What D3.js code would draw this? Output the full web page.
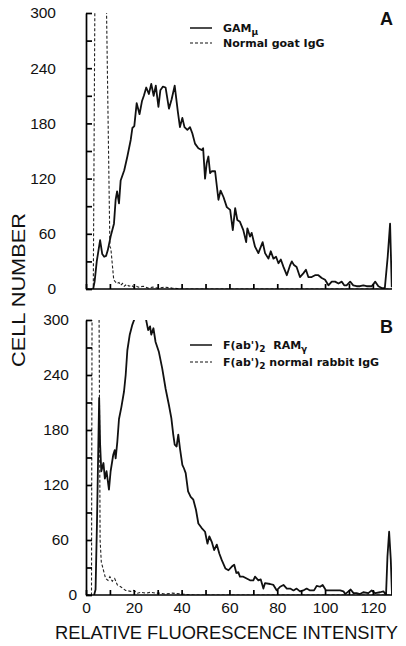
<!DOCTYPE html>
<html>
<head>
<meta charset="utf-8">
<script src="https://cdn.jsdelivr.net/npm/d3@7"></script>
<style>
	body { margin: 0; background: #fff; }
	svg { display: block; }
</style>
</head>
<body>
<div id="chart"></div>
<script>
// [channel, cell number]
const gamMu = [[3,0],[3.6,8],[4.5,30],[5.9,53],[6.8,38],[7.6,35],[8.4,36],[9.1,42],[10.3,57],[11.7,71],[12.4,97],[13,106],[13.8,93],[14.5,118],[16,129],[17.3,144],[18.7,162],[19.4,175],[20.2,177],[21.2,202],[22.4,190],[23.4,204],[24.2,210],[25.2,219],[26.3,212],[27.3,223],[28.3,210],[29.2,221],[30.3,198],[31.1,216],[32.2,220],[33.3,219],[34.7,196],[35.8,206],[37.1,221],[38.4,193],[39.3,176],[40.3,186],[41.2,176],[42.4,173],[43.5,176],[44.5,169],[45.6,158],[47,153],[48.4,151],[49,153],[49.8,120],[50.5,137],[51.2,144],[51.9,126],[52.6,128],[54,128],[55.4,97],[56.3,107],[57.5,100],[58.9,89],[60.3,86],[61.4,64],[62.4,88],[63.3,75],[64.4,73],[65.8,64],[67,51],[67.5,66],[68.6,57],[69.3,61],[70.7,46],[72.1,39],[73.9,51],[74.9,39],[76.3,33],[77.3,41],[78.4,33],[79.5,35],[80.5,28],[81.5,32],[82.6,24],[84,15],[85.4,26],[86.1,30],[87,26],[88.1,24],[89.5,13],[90.9,17],[92,21],[93,13],[94.4,13],[95.8,15],[97.2,15],[98.6,12],[100,10],[101.4,4],[102.8,8],[104.2,8],[105.6,6],[107,8],[108,4],[109,4],[110.5,8],[111.8,4],[113.2,3],[114.6,3],[116,4],[117.4,3],[119.5,3],[121,8],[122.3,3],[123.7,1],[125,1],[126.2,35],[127.2,71],[127.9,2]];

const goatIgG = [[0,0],[3.05,0],[3.9,400],[8.05,400],[10,46],[10.4,44],[11.6,10],[12.2,8],[13,6],[13.8,7],[14.5,4],[15.3,6],[16,3],[17,5],[18,3],[19,4],[20,2],[21,3],[22,2],[24,3],[26,1],[28,2],[30,1],[33,2],[36,1],[40,0],[128,0]];

const ramGamma = [[3.4,0],[4,6],[4.6,80],[5.5,215],[5.9,165],[6.4,135],[7.3,144],[7.9,127],[8.6,135],[9.6,115],[10.3,135],[11.4,153],[12,158],[12.4,149],[13.1,167],[13.8,192],[14.8,205],[15.9,222],[16.6,240],[17.3,267],[18.3,284],[19.4,295],[20.4,302],[21.5,320],[23,340],[24.3,320],[25,302],[26,289],[26.8,293],[27.3,284],[28.2,291],[29.1,276],[30.5,265],[31.9,247],[33.3,225],[34.7,207],[35.7,193],[36.5,175],[37.1,164],[37.9,162],[38.6,175],[39.3,160],[40.3,142],[41,138],[41.7,133],[42.7,113],[43.8,107],[44.9,104],[46,93],[47,78],[48.4,73],[49.8,69],[50.8,56],[51.6,64],[52.6,58],[53.6,49],[54.7,55],[55.8,45],[56.8,38],[58.3,29],[59.6,27],[61,31],[62,33],[62.9,24],[63.7,25],[64.4,20],[65.8,20],[67.2,18],[68.6,16],[70,16],[70.7,20],[72.1,16],[73.1,17],[74.2,7],[74.9,13],[77,12],[78.4,11],[79.8,5],[81.2,9],[82.6,11],[84,7],[85.4,7],[86.8,5],[88.1,7],[89.5,4],[90.9,5],[92.3,7],[93.7,5],[95.4,5],[96.5,10],[97.9,9],[99,11],[100.4,5],[102,5],[104.2,5],[106.3,5],[107.7,4],[108.4,1],[109.8,4],[110.7,6],[111.9,2],[113.2,2],[114.6,1],[116,3],[118.1,2],[119.5,5],[121,2],[123,3],[124.4,4],[125.5,0],[126.1,42],[126.8,69],[127.5,38],[128,0]];

const rabbitIgG = [[0,0],[2.3,0],[2.6,400],[5.3,400],[5.9,60],[6.4,36],[7.5,25],[8.2,18],[9.2,16],[10,20],[11,15],[12,18],[13.1,11],[14.5,9],[15.5,7],[16.6,5],[18.7,4],[20,5],[21.5,2],[23,3],[25,2],[27,3],[29,2],[31,2],[33,1],[36,2],[40,1],[45,0],[128,0]];

const xTicks = d3.range(0, 121, 10);
const xLabels = [0, 20, 40, 60, 80, 100, 120];
const yTicks = d3.range(0, 301, 30);
const yLabels = [0, 60, 120, 180, 240, 300];

const width = 406,
	height = 646;

const svg = d3
	.select('#chart')
	.append('svg')
	.attr('width', width)
	.attr('height', height)
	.style('font-family', "'Liberation Sans', Arial, sans-serif");

const x = d3.scaleLinear().domain([0, 128]).range([86, 392]);

const panels = [
	{
		id: 'A', top: 13, bottom: 289, solid: gamMu, dashed: goatIgG,
		labelPad: 30, xLabels: false, letterY: 25,
		legendY: [28, 43],
		legend: [[['GAM', 0], ['μ', 1]], [['Normal goat IgG', 0]]]
	},
	{
		id: 'B', top: 320, bottom: 595, solid: ramGamma, dashed: rabbitIgG,
		labelPad: 17, xLabels: true, letterY: 333,
		legendY: [345, 362],
		legend: [[['F(ab\')', 0], ['2', 1], ['  RAM', 0], ['γ', 1]], [['F(ab\')', 0], ['2', 1], [' normal rabbit IgG', 0]]]
	}
];

panels.forEach(p => {
	const y = d3.scaleLinear().domain([0, 300]).range([p.bottom, p.top]);
	const g = svg.append('g');

	g.append('clipPath')
		.attr('id', 'clip-' + p.id)
		.append('rect')
		.attr('x', x(0))
		.attr('y', p.top)
		.attr('width', x(128) - x(0))
		.attr('height', p.bottom - p.top);

	const line = d3.line().x(d => x(d[0])).y(d => y(d[1]));

	g.append('path')
		.datum(p.dashed)
		.attr('clip-path', 'url(#clip-' + p.id + ')')
		.attr('d', line)
		.attr('fill', 'none')
		.attr('stroke', '#222')
		.attr('stroke-width', 1.1)
		.attr('stroke-dasharray', '3,2');

	g.append('path')
		.datum(p.solid)
		.attr('clip-path', 'url(#clip-' + p.id + ')')
		.attr('d', line)
		.attr('fill', 'none')
		.attr('stroke', '#111')
		.attr('stroke-width', 1.8)
		.attr('stroke-linejoin', 'round');

	// axes with inward ticks
	const xAxis = g
		.append('g')
		.attr('class', 'x-axis')
		.attr('transform', 'translate(0,' + p.bottom + ')')
		.call(
			d3.axisBottom(x)
				.tickValues(xTicks)
				.tickSize(-5)
				.tickPadding(7)
				.tickFormat(d => (p.xLabels && xLabels.includes(d) ? d : ''))
		);

	const yAxis = g
		.append('g')
		.attr('transform', 'translate(' + x(0) + ',0)')
		.call(
			d3.axisLeft(y)
				.tickValues(yTicks)
				.tickSizeInner(-6)
				.tickSizeOuter(0)
				.tickPadding(p.labelPad)
				.tickFormat(d => (yLabels.includes(d) ? d : ''))
		);

	[xAxis, yAxis].forEach(a => {
		a.attr('font-family', null).attr('font-size', 15.5);
		a.selectAll('path, line').attr('stroke', '#000').attr('stroke-width', 1.7);
		a.selectAll('text').attr('fill', '#111');
	});

	// baseline running to the end of the channel range
	xAxis.select('.domain').attr('d', 'M' + x(0) + ',0L' + x(128) + ',0.01');

	if (p.id === 'B') {
		yAxis.selectAll('.tick').filter(d => d === 0).select('text').attr('dx', 8);
	}

	// panel letter
	g.append('text')
		.attr('x', 386.5)
		.attr('y', p.letterY)
		.attr('text-anchor', 'middle')
		.attr('font-size', 18)
		.attr('font-weight', 'bold')
		.attr('fill', '#111')
		.text(p.id);

	// legend
	p.legend.forEach((parts, i) => {
		const ly = p.legendY[i];
		g.append('line')
			.attr('x1', 190)
			.attr('x2', 212)
			.attr('y1', ly)
			.attr('y2', ly)
			.attr('stroke', '#111')
			.attr('stroke-width', i === 0 ? 1.5 : 1.1)
			.attr('stroke-dasharray', i === 0 ? null : '3,2');

		const t = g
			.append('text')
			.attr('x', 223)
			.attr('y', ly + 4)
			.attr('font-family', "'DejaVu Sans', sans-serif")
			.attr('font-size', 11)
			.attr('font-weight', 'bold')
			.attr('fill', '#111')
			.style('white-space', 'pre');

		parts.forEach(([s, sub]) => {
			t.append('tspan')
				.attr('y', ly + 4 + (sub ? 3 : 0))
				.attr('font-size', sub ? 9 : 11)
				.text(s);
		});
	});
});

// axis titles
svg
	.append('text')
	.attr('x', 55)
	.attr('y', 639)
	.attr('font-size', 18)
	.attr('fill', '#111')
	.attr('textLength', 343)
	.attr('lengthAdjust', 'spacingAndGlyphs')
	.text('RELATIVE FLUORESCENCE INTENSITY');

svg
	.append('text')
	.attr('transform', 'translate(25,367) rotate(-90)')
	.attr('font-size', 19)
	.attr('fill', '#111')
	.attr('textLength', 154)
	.attr('lengthAdjust', 'spacingAndGlyphs')
	.text('CELL NUMBER');
</script>
</body>
</html>
